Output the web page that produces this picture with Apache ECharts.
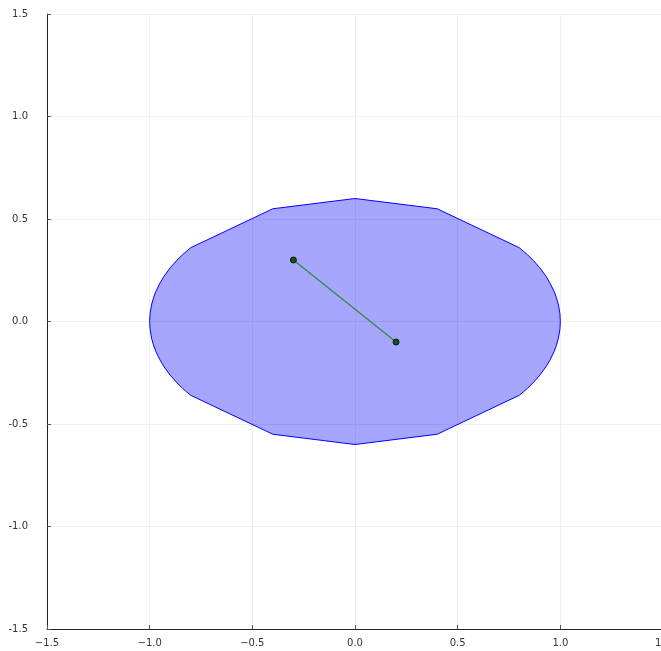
<!DOCTYPE html>
<html>
<head>
<meta charset="utf-8">
<script src="https://cdn.jsdelivr.net/npm/echarts@6/dist/echarts.min.js"></script>
<style>
  html, body { margin: 0; padding: 0; background: #fff; }
  #chart { width: 661px; height: 651px; }
</style>
</head>
<body>
<div id="chart"></div>
<script>
// Outline of the shaded region (closed polygon, counter-clockwise from the right end)
var regionX = [1.0, 0.998, 0.99, 0.98, 0.97, 0.95, 0.93, 0.9, 0.87, 0.84, 0.82, 0.8, 0.4, 0.0, -0.4,
               -0.8, -0.82, -0.84, -0.87, -0.9, -0.93, -0.95, -0.97, -0.98, -0.99, -0.998, -1.0,
               -0.998, -0.99, -0.98, -0.97, -0.95, -0.93, -0.9, -0.87, -0.84, -0.82, -0.8, -0.4, 0.0, 0.4,
               0.8, 0.82, 0.84, 0.87, 0.9, 0.93, 0.95, 0.97, 0.98, 0.99, 0.998];
var regionY = [0.0, 0.038, 0.085, 0.119, 0.146, 0.187, 0.221, 0.262, 0.296, 0.326, 0.343, 0.36, 0.55, 0.6, 0.55,
               0.36, 0.343, 0.326, 0.296, 0.262, 0.221, 0.187, 0.146, 0.119, 0.085, 0.038, 0.0,
               -0.038, -0.085, -0.119, -0.146, -0.187, -0.221, -0.262, -0.296, -0.326, -0.343, -0.36, -0.55, -0.6, -0.55,
               -0.36, -0.343, -0.326, -0.296, -0.262, -0.221, -0.187, -0.146, -0.119, -0.085, -0.038];

// Segment endpoints
var segX = [-0.3, 0.2];
var segY = [0.3, -0.1];

// Axis ticks
var xTicks = [-1.5, -1.0, -0.5, 0.0, 0.5, 1.0, 1.5];
var yTicks = [-1.5, -1.0, -0.5, 0.0, 0.5, 1.0, 1.5];

var regionPts = regionX.map(function (x, i) { return [x, regionY[i]]; });
var segPts = segX.map(function (x, i) { return [x, segY[i]]; });

var labelFont = { fontFamily: 'DejaVu Sans', fontSize: 10, color: '#333' };

function fmt(v, minusChar) {
  var s = Math.abs(v).toFixed(1);
  return v < 0 ? minusChar + s : s;
}

var chart = echarts.init(document.getElementById('chart'), null, { renderer: 'canvas' });
chart.setOption({
  animation: false,
  backgroundColor: '#fff',
  grid: { left: 47, right: -2, top: 14, bottom: 22, containLabel: false, outerBoundsMode: 'none' },
  xAxis: {
    type: 'value', min: xTicks[0], max: xTicks[xTicks.length - 1], interval: 0.5,
    axisLine: { show: true, onZero: false, lineStyle: { color: '#222', width: 1 } },
    axisTick: { show: true, inside: true, length: 4, lineStyle: { color: '#555' } },
    axisLabel: Object.assign({ margin: 9, showMaxLabel: true, hideOverlap: false, formatter: function (v) { return fmt(v, '\u2212'); } }, labelFont),
    splitLine: { show: true, lineStyle: { color: '#efefef', width: 1 } }
  },
  yAxis: {
    type: 'value', min: yTicks[0], max: yTicks[yTicks.length - 1], interval: 0.5,
    axisLine: { show: true, onZero: false, lineStyle: { color: '#222', width: 1 } },
    axisTick: { show: true, inside: true, length: 4, lineStyle: { color: '#555' } },
    axisLabel: Object.assign({ margin: 19, formatter: function (v) { return fmt(v, '-'); } }, labelFont),
    splitLine: { show: true, lineStyle: { color: '#efefef', width: 1 } }
  },
  series: [
    {
      type: 'custom',
      coordinateSystem: 'cartesian2d',
      data: [[0, 0]],
      renderItem: function (params, api) {
        var pts = regionPts.map(function (p) { return api.coord(p); });
        return {
          type: 'polygon',
          shape: { points: pts },
          style: { fill: 'rgba(0,0,255,0.35)', stroke: '#0000ff', lineWidth: 1 }
        };
      },
      silent: true,
      z: 2
    },
    {
      type: 'line',
      data: segPts,
      symbol: 'circle',
      symbolSize: 6,
      lineStyle: { color: '#2a8a3a', width: 1.2 },
      itemStyle: { color: '#0a5a12', borderColor: '#111', borderWidth: 1 },
      z: 3
    }
  ]
});
</script>
</body>
</html>
